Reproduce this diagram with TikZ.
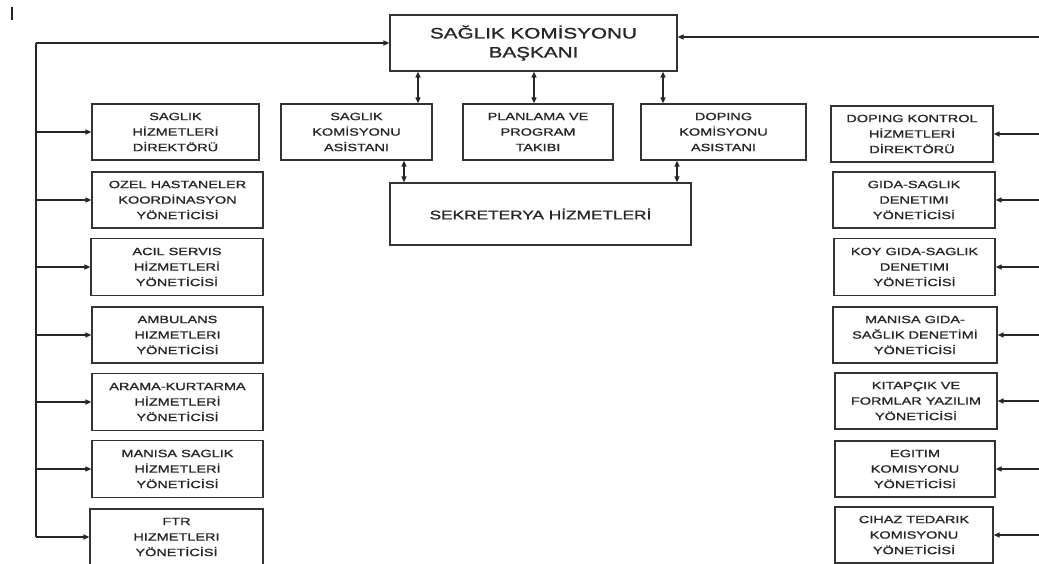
\documentclass[tikz,border=0pt]{standalone}
\usepackage{fontspec}
\setmainfont{Liberation Sans}[FakeStretch=1.38, FakeBold=1.2]
\usetikzlibrary{arrows.meta}
\begin{document}
\begin{tikzpicture}[x=1pt,y=1pt,
  box/.style={draw=black!80, line width=1.2pt, inner sep=0pt, align=center,
    minimum height=56pt, text=black!85,
    font=\fontsize{10.5}{15.5}\selectfont},
  arr/.style={draw=black!85, line width=1.3pt, -{Triangle[length=6pt,width=5pt]}},
  darr/.style={draw=black!85, line width=1.3pt, {Triangle[length=6pt,width=5pt]}-{Triangle[length=6pt,width=5pt]}}]
\useasboundingbox (0,0) rectangle (1039,-564);
\clip (0,0) rectangle (1039,-564);
\draw[line width=1.6pt, black!85] (12,-7) -- (12,-20);

% top
\node[box, minimum width=287pt, font=\fontsize{15}{19}\selectfont] (top) at (533.5,-43) {SAĞLIK KOMİSYONU\\BAŞKANI};

% middle
\node[box, minimum width=151pt] (m1) at (356.5,-132) {SAGLIK\\KOMİSYONU\\ASİSTANI};
\node[box, minimum width=150pt] (m2) at (538,-132) {PLANLAMA VE\\PROGRAM\\TAKIBI};
\node[box, minimum width=165pt] (m3) at (723.5,-132) {DOPING\\KOMİSYONU\\ASISTANI};
\node[box, minimum width=301pt, minimum height=62pt, font=\fontsize{12.5}{15}\selectfont] (sek) at (540.5,-214) {SEKRETERYA HİZMETLERİ};

% left
\node[box, minimum width=167pt] (l1) at (175.5,-132) {SAGLIK\\HİZMETLERİ\\DİREKTÖRÜ};
\node[box, minimum width=171pt] (l2) at (177.5,-200) {OZEL HASTANELER\\KOORDİNASYON\\YÖNETİCİSİ};
\node[box, minimum width=172pt, minimum height=57pt] (l3) at (177,-267) {ACIL SERVIS\\HİZMETLERİ\\YÖNETİCİSİ};
\node[box, minimum width=171pt] (l4) at (177.5,-335) {AMBULANS\\HIZMETLERI\\YÖNETİCİSİ};
\node[box, minimum width=171pt, minimum height=57pt] (l5) at (177.5,-402) {ARAMA-KURTARMA\\HİZMETLERİ\\YÖNETİCİSİ};
\node[box, minimum width=171pt, minimum height=57pt] (l6) at (177.5,-469) {MANISA SAGLIK\\HİZMETLERİ\\YÖNETİCİSİ};
\node[box, minimum width=173pt] (l7) at (176.5,-537) {FTR\\HIZMETLERI\\YÖNETİCİSİ};

% right
\node[box, minimum width=162pt] (r1) at (912,-134) {DOPING KONTROL\\HİZMETLERİ\\DİREKTÖRÜ};
\node[box, minimum width=162pt] (r2) at (914,-200) {GIDA-SAGLIK\\DENETIMI\\YÖNETİCİSİ};
\node[box, minimum width=161pt, minimum height=57pt] (r3) at (914.5,-267) {KOY GIDA-SAGLIK\\DENETIMI\\YÖNETİCİSİ};
\node[box, minimum width=164pt] (r4) at (915,-335) {MANISA GIDA-\\SAĞLIK DENETİMİ\\YÖNETİCİSİ};
\node[box, minimum width=162pt] (r5) at (916,-401) {KITAPÇIK VE\\FORMLAR YAZILIM\\YÖNETİCİSİ};
\node[box, minimum width=160pt] (r6) at (915,-469) {EGITIM\\KOMISYONU\\YÖNETİCİSİ};
\node[box, minimum width=158pt] (r7) at (914,-535) {CIHAZ TEDARIK\\KOMISYONU\\YÖNETİCİSİ};

% coordinates
\coordinate (ltop) at (36,-43);
\coordinate (lbot) at (36,-537);
\coordinate (rtop) at (1039,-37);
\coordinate (redge) at (1039,0);
\coordinate (a1) at (418,0);
\coordinate (a2) at (534,0);
\coordinate (a3) at (663,0);
\coordinate (s1) at (404,0);
\coordinate (s2) at (677,0);

% left spine
\draw[arr] (ltop) -- (ltop -| top.west);
\draw[draw=black!85, line width=1.3pt] (ltop) -- (lbot);
\foreach \n in {l1,l2,l3,l4,l5,l6,l7}
  \draw[arr] (\n.west -| ltop) -- (\n.west);

% right
\draw[arr] (rtop) -- (rtop -| top.east);
\foreach \n in {r1,r2,r3,r4,r5,r6,r7}
  \draw[arr] (\n.east -| redge) -- (\n.east);

% vertical double arrows
\draw[darr] (top.south -| a1) -- (m1.north -| a1);
\draw[darr] (top.south -| a2) -- (m2.north -| a2);
\draw[darr] (top.south -| a3) -- (m3.north -| a3);
\draw[darr] (m1.south -| s1) -- (sek.north -| s1);
\draw[darr] (m3.south -| s2) -- (sek.north -| s2);
\end{tikzpicture}
\end{document}
